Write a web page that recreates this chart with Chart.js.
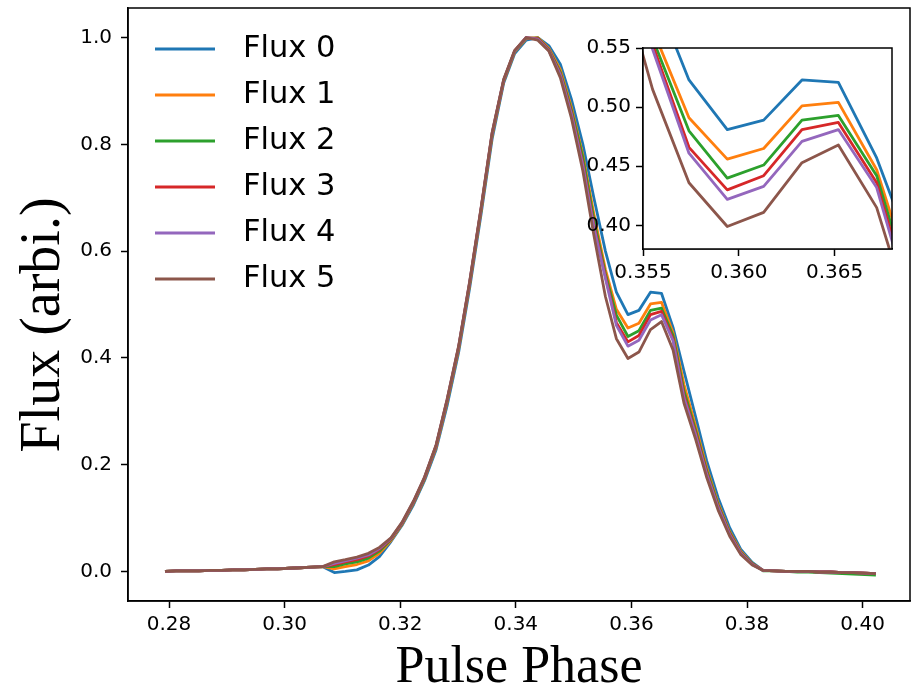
<!DOCTYPE html>
<html>
<head>
<meta charset="utf-8">
<script src="https://cdn.jsdelivr.net/npm/chart.js"></script>
<style>
  html, body { margin: 0; padding: 0; background: #fff; }
  #wrap { position: relative; width: 912px; height: 689px; }
  #mainChart { position: absolute; left: 0; top: 0; }
  #insetChart { position: absolute; left: 560px; top: 31px; }
</style>
</head>
<body>
<div id="wrap">
  <canvas id="mainChart" width="912" height="689"></canvas>
  <canvas id="insetChart" width="345" height="250"></canvas>
</div>
<script>
// pulse phase bins
const phase = [
  0.2793, 0.2812, 0.2832, 0.2852, 0.2871, 0.2891, 0.2910, 0.2930, 0.2949, 0.2969,
  0.2988, 0.3008, 0.3027, 0.3047, 0.3066, 0.3086, 0.3105, 0.3125, 0.3145, 0.3164,
  0.3184, 0.3203, 0.3223, 0.3242, 0.3262, 0.3281, 0.3301, 0.3320, 0.3340, 0.3359,
  0.3379, 0.3398, 0.3418, 0.3438, 0.3457, 0.3477, 0.3496, 0.3516, 0.3535, 0.3555,
  0.3574, 0.3594, 0.3613, 0.3633, 0.3652, 0.3672, 0.3691, 0.3711, 0.3730, 0.3750,
  0.3770, 0.3789, 0.3809, 0.3828, 0.3848, 0.3867, 0.3887, 0.3906, 0.3926, 0.3945,
  0.3965, 0.3984, 0.4004, 0.4023
];

const flux0 = [
  0.000, 0.001, 0.001, 0.001, 0.002, 0.002, 0.003, 0.003, 0.004, 0.005,
  0.005, 0.006, 0.007, 0.008, 0.009, -0.002, 0.000, 0.003, 0.012, 0.028,
  0.056, 0.086, 0.125, 0.170, 0.228, 0.310, 0.410, 0.530, 0.670, 0.810,
  0.915, 0.970, 0.995, 1.000, 0.985, 0.950, 0.885, 0.800, 0.700, 0.600,
  0.523, 0.481, 0.489, 0.523, 0.521, 0.457, 0.375, 0.290, 0.208, 0.138,
  0.082, 0.042, 0.017, 0.002, 0.001, 0.000, 0.000, 0.000, -0.001, -0.001,
  -0.002, -0.002, -0.003, -0.004
];
const flux1 = [
  0.000, 0.001, 0.001, 0.001, 0.002, 0.002, 0.003, 0.003, 0.004, 0.005,
  0.005, 0.006, 0.007, 0.008, 0.009, 0.005, 0.009, 0.013, 0.020, 0.034,
  0.058, 0.088, 0.128, 0.173, 0.232, 0.316, 0.416, 0.536, 0.676, 0.816,
  0.918, 0.973, 0.998, 1.000, 0.980, 0.940, 0.870, 0.780, 0.670, 0.566,
  0.491, 0.456, 0.465, 0.501, 0.504, 0.447, 0.350, 0.272, 0.195, 0.128,
  0.075, 0.038, 0.015, 0.002, 0.001, 0.000, 0.000, 0.000, -0.001, -0.001,
  -0.002, -0.002, -0.003, -0.004
];
const flux2 = [
  0.000, 0.001, 0.001, 0.001, 0.002, 0.002, 0.003, 0.003, 0.004, 0.005,
  0.005, 0.006, 0.007, 0.008, 0.009, 0.009, 0.014, 0.018, 0.025, 0.038,
  0.060, 0.089, 0.129, 0.174, 0.234, 0.318, 0.418, 0.538, 0.678, 0.818,
  0.919, 0.974, 0.999, 0.999, 0.978, 0.935, 0.865, 0.775, 0.660, 0.558,
  0.480, 0.440, 0.451, 0.489, 0.493, 0.442, 0.338, 0.265, 0.190, 0.125,
  0.073, 0.036, 0.015, 0.001, 0.001, 0.000, -0.001, -0.001, -0.002, -0.003,
  -0.004, -0.005, -0.006, -0.007
];
const flux3 = [
  0.000, 0.001, 0.001, 0.001, 0.002, 0.002, 0.003, 0.003, 0.004, 0.005,
  0.005, 0.006, 0.007, 0.008, 0.009, 0.013, 0.018, 0.022, 0.029, 0.041,
  0.061, 0.090, 0.130, 0.175, 0.235, 0.320, 0.420, 0.540, 0.680, 0.820,
  0.920, 0.975, 1.000, 0.998, 0.977, 0.932, 0.860, 0.765, 0.650, 0.553,
  0.466, 0.430, 0.442, 0.481, 0.487, 0.436, 0.330, 0.260, 0.186, 0.122,
  0.071, 0.035, 0.014, 0.002, 0.001, 0.000, 0.000, 0.000, -0.001, -0.001,
  -0.002, -0.002, -0.003, -0.004
];
const flux4 = [
  0.000, 0.001, 0.001, 0.001, 0.002, 0.002, 0.003, 0.003, 0.004, 0.005,
  0.005, 0.006, 0.007, 0.008, 0.009, 0.015, 0.020, 0.025, 0.031, 0.043,
  0.062, 0.091, 0.131, 0.176, 0.236, 0.321, 0.421, 0.541, 0.681, 0.821,
  0.921, 0.975, 1.000, 0.997, 0.976, 0.930, 0.857, 0.760, 0.645, 0.549,
  0.461, 0.422, 0.433, 0.471, 0.481, 0.432, 0.325, 0.256, 0.183, 0.120,
  0.069, 0.034, 0.013, 0.002, 0.001, 0.000, 0.000, 0.000, -0.001, -0.001,
  -0.002, -0.002, -0.003, -0.004
];
const flux5 = [
  0.000, 0.001, 0.001, 0.001, 0.002, 0.002, 0.003, 0.003, 0.004, 0.005,
  0.005, 0.006, 0.007, 0.008, 0.009, 0.018, 0.022, 0.027, 0.034, 0.045,
  0.063, 0.092, 0.132, 0.177, 0.237, 0.322, 0.422, 0.542, 0.682, 0.822,
  0.922, 0.976, 1.000, 0.995, 0.975, 0.925, 0.850, 0.750, 0.630, 0.515,
  0.436, 0.399, 0.411, 0.453, 0.468, 0.415, 0.315, 0.248, 0.177, 0.115,
  0.066, 0.032, 0.012, 0.002, 0.001, 0.000, 0.000, 0.000, -0.001, -0.001,
  -0.002, -0.002, -0.003, -0.004
];

const seriesNames = ['Flux 0', 'Flux 1', 'Flux 2', 'Flux 3', 'Flux 4', 'Flux 5'];
const seriesColors = ['#1f77b4', '#ff7f0e', '#2ca02c', '#d62728', '#9467bd', '#8c564b'];
const allFlux = [flux0, flux1, flux2, flux3, flux4, flux5];

// tick labels
const mainXTicks = [0.28, 0.30, 0.32, 0.34, 0.36, 0.38, 0.40];
const mainYTicks = [0.0, 0.2, 0.4, 0.6, 0.8, 1.0];
const insetXTicks = [0.355, 0.360, 0.365];
const insetYTicks = [0.40, 0.45, 0.50, 0.55];

const tickFont = { family: "'DejaVu Sans', sans-serif", size: 20 };

function makeDatasets() {
    return allFlux.map((f, i) => ({
        label: seriesNames[i],
        data: phase.map((p, j) => ({ x: p, y: f[j] })),
        borderColor: seriesColors[i],
        backgroundColor: seriesColors[i],
        borderWidth: 2.8,
        borderJoinStyle: 'round',
        pointRadius: 0,
        tension: 0,
        fill: false,
        order: allFlux.length - i // later series on top, like matplotlib
    }));
}

function axis(min, max, ticks, digits, pad, extra) {
    return Object.assign({
        type: 'linear',
        min: min,
        max: max,
        afterBuildTicks: s => { s.ticks = ticks.map(v => ({ value: v })); },
        ticks: {
            callback: v => v.toFixed(digits),
            font: tickFont,
            color: '#000',
            padding: pad,
            maxRotation: 0,
            autoSkip: false
        },
        grid: { drawOnChartArea: false, drawTicks: true, tickLength: 7, tickWidth: 1.5, tickColor: '#000' },
        border: { display: true, color: '#000', width: 1.5 }
    }, extra);
}

// full box around the axes
const boxPlugin = {
    id: 'box',
    beforeDatasetsDraw(chart, args, opts) {
        if (!opts.fill) return;
        const a = chart.chartArea;
        chart.ctx.save();
        chart.ctx.fillStyle = '#fff';
        chart.ctx.fillRect(a.left, a.top, a.right - a.left, a.bottom - a.top);
        chart.ctx.restore();
    },
    afterDatasetsDraw(chart) {
        const { ctx, chartArea: a } = chart;
        ctx.save();
        ctx.strokeStyle = '#000';
        ctx.lineWidth = 1.5;
        ctx.strokeRect(a.left, a.top, a.right - a.left, a.bottom - a.top);
        ctx.restore();
    }
};

// legend in the upper left (no frame) and the vertical axis title
const legendPlugin = {
    id: 'fluxLegend',
    afterDatasetsDraw(chart) {
        const { ctx, chartArea: a } = chart;
        ctx.save();
        ctx.font = "30.5px 'DejaVu Sans', sans-serif";
        ctx.textBaseline = 'middle';
        ctx.textAlign = 'left';
        seriesNames.forEach((name, i) => {
            const y = a.top + 41 + i * 46;
            ctx.strokeStyle = seriesColors[i];
            ctx.lineWidth = 2.8;
            ctx.beginPath();
            ctx.moveTo(a.left + 27, y);
            ctx.lineTo(a.left + 87, y);
            ctx.stroke();
            ctx.fillStyle = '#000';
            ctx.fillText(name, a.left + 115, y);
        });

        ctx.translate(44, 325);
        ctx.rotate(-Math.PI / 2);
        ctx.font = "56px 'Liberation Serif', serif";
        ctx.textAlign = 'center';
        ctx.fillText('Flux (arbi.)', 0, 0);
        ctx.restore();
    }
};

new Chart(document.getElementById('mainChart'), {
    type: 'line',
    data: { datasets: makeDatasets() },
    options: {
        responsive: false,
        animation: false,
        layout: { padding: { left: 0, right: 2, top: 8, bottom: 0 } },
        scales: {
            x: axis(0.2729, 0.4082, mainXTicks, 2, 5, {
                afterFit: s => { s.height = 88; s.paddingLeft = 0; s.paddingRight = 0; },
                title: {
                    display: true, text: 'Pulse Phase', color: '#000',
                    font: { family: "'Liberation Serif', serif", size: 52 },
                    padding: { top: 0, bottom: -11 }
                }
            }),
            y: axis(-0.0553, 1.0553, mainYTicks, 1, 9, {
                afterFit: s => { s.width = 128; s.paddingTop = 0; s.paddingBottom = 0; }
            })
        },
        plugins: {
            legend: { display: false },
            tooltip: { enabled: false },
            box: { fill: false }
        }
    },
    plugins: [boxPlugin, legendPlugin]
});

new Chart(document.getElementById('insetChart'), {
    type: 'line',
    data: { datasets: makeDatasets() },
    options: {
        responsive: false,
        animation: false,
        layout: { padding: { left: 0, right: 13, top: 17, bottom: 0 } },
        scales: {
            x: axis(0.355, 0.368, insetXTicks, 3, 5, { afterFit: s => { s.height = 32; } }),
            y: axis(0.38, 0.55, insetYTicks, 2, 5, { afterFit: s => { s.width = 83; } })
        },
        plugins: {
            legend: { display: false },
            tooltip: { enabled: false },
            box: { fill: true }
        }
    },
    plugins: [boxPlugin]
});
</script>
</body>
</html>
